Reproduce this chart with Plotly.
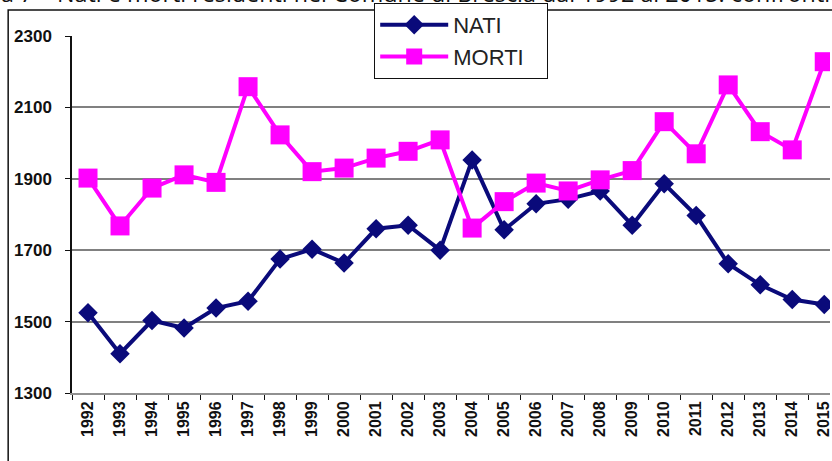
import plotly.graph_objects as go

years = [str(y) for y in range(1992, 2016)]
nati = [1525, 1410, 1503, 1482, 1538, 1557, 1675, 1703, 1664, 1760, 1770, 1700,
        1953, 1757, 1830, 1843, 1866, 1770, 1886, 1797, 1662, 1603, 1562, 1548]
morti = [1902, 1768, 1874, 1911, 1890, 2158, 2023, 1920, 1930, 1958, 1977, 2009,
         1762, 1836, 1888, 1866, 1897, 1923, 2060, 1970, 2163, 2032, 1981, 2228]
series_names = ["NATI", "MORTI"]
y_ticks = [1300, 1500, 1700, 1900, 2100, 2300]
grid_vals = [1500, 1700, 1900, 2100]
title_text = "a 7 \u2013 Nati e morti residenti nel Comune di Brescia dal 1992 al 2015: confronti"

W, H = 832, 461
L, R, T, B = 72, 0, 36, 68
pw, ph = W - L - R, H - T - B

def px(x):
    return (x - L) / pw

def py(y):
    return (H - B - y) / ph

fig = go.Figure()
fig.add_trace(go.Scatter(
    x=years, y=nati, name=series_names[0], mode="lines+markers",
    line=dict(color="#0a0a7a", width=4),
    marker=dict(symbol="diamond", size=15, color="#0a0a7a"),
))
fig.add_trace(go.Scatter(
    x=years, y=morti, name=series_names[1] + "\u00a0\u00a0\u00a0", mode="lines+markers",
    line=dict(color="#ff00ff", width=4),
    marker=dict(symbol="square", size=19, color="#ff00ff"),
))
# invisible trace for grid axis
fig.add_trace(go.Scatter(x=years, y=nati, yaxis="y2", mode="none",
                         showlegend=False, hoverinfo="skip"))

fig.update_layout(
    width=W, height=H,
    margin=dict(l=L, r=R, t=T, b=B, pad=0),
    paper_bgcolor="white", plot_bgcolor="white",
    font=dict(family="Liberation Sans, Arial, sans-serif", color="#111111"),
    showlegend=True,
    legend=dict(
        x=px(375), y=py(3), xanchor="left", yanchor="top",
        bgcolor="white", bordercolor="#111111", borderwidth=1,
        font=dict(size=22, family="Liberation Sans, Arial, sans-serif", color="#222222"),
        itemwidth=68, tracegroupgap=0,
    ),
    xaxis=dict(
        type="category", range=[-0.5, 23.18],
        tickson="boundaries", ticks="outside", ticklen=5, tickcolor="#111111",
        tickwidth=1, tickangle=-90,
        tickfont=dict(size=16, weight="bold", color="#111111"),
        showline=True, linecolor="#909090", linewidth=2,
        showgrid=False, zeroline=False,
    ),
    yaxis=dict(
        range=[1300, 2300], tickvals=y_ticks,
        ticks="outside", ticklen=5, tickcolor="#111111", tickwidth=1,
        ticklabelstandoff=10,
        tickfont=dict(size=17, weight="bold", color="#111111"),
        showline=True, linecolor="#111111", linewidth=1.5,
        showgrid=False, zeroline=False,
    ),
    yaxis2=dict(
        overlaying="y", range=[1300, 2300], tickvals=grid_vals,
        showgrid=True, gridcolor="#808080", gridwidth=2,
        showticklabels=False, ticks="", showline=False, zeroline=False,
    ),
    shapes=[dict(
        type="rect", xref="paper", yref="paper",
        x0=px(8), x1=px(W + 20), y0=py(H + 20), y1=py(10),
        line=dict(color="#111111", width=1.5), fillcolor="rgba(0,0,0,0)",
        layer="below",
    )],
    annotations=[dict(
        text=title_text, xref="paper", yref="paper",
        x=px(-1), y=py(11), xanchor="left", yanchor="bottom",
        showarrow=False,
        font=dict(family="Open Sans, sans-serif", size=23.3, color="#111111"),
    )],
)

fig.write_html(
    "out.html",
    config={"displayModeBar": False},
    post_script="document.body.style.margin='0';document.body.style.padding='0';",
)
